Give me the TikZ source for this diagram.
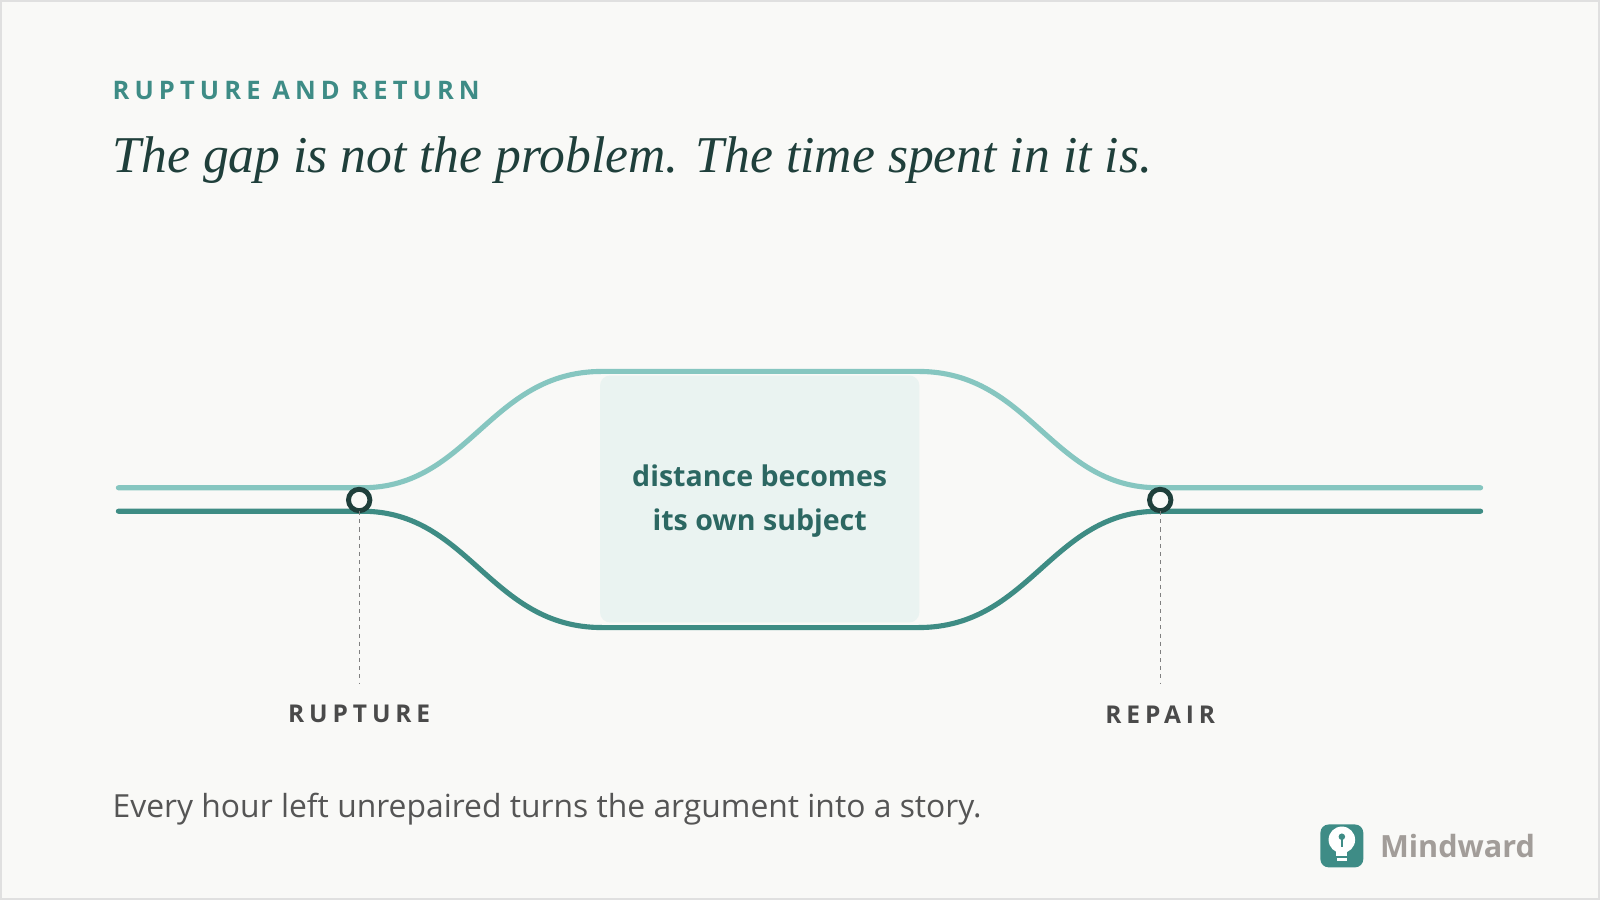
\documentclass[tikz,border=0pt]{standalone}
\usepackage{fontspec}
\setmainfont{Open Sans}
\newfontfamily\titlefont{Liberation Serif}
\newfontfamily\spacedfont[LetterSpace=20]{Open Sans}
\definecolor{bg}{HTML}{F9F9F7}
\definecolor{light}{HTML}{86C6C0}
\definecolor{dark}{HTML}{3E8C84}
\definecolor{ink}{HTML}{1F3F3B}
\definecolor{teal}{HTML}{3E8C86}
\definecolor{boxc}{HTML}{EAF3F1}
\definecolor{boxt}{HTML}{2C6762}
\definecolor{grayt}{HTML}{4A4A4A}
\definecolor{body}{HTML}{555555}
\definecolor{logot}{HTML}{A29D99}
\tikzset{
 lightline/.style={light,line width=2.5pt,line cap=round},
 darkline/.style={dark,line width=2.5pt,line cap=round},
 marker/.style={circle,draw=ink,line width=2.4pt,fill=bg,minimum size=10.5pt,inner sep=0pt},
 tick/.style={gray,line width=0.5pt,dash pattern=on 2pt off 2pt},
 lab/.style={font=\spacedfont\bfseries\fontsize{12}{14}\selectfont,text=grayt},
}
\begin{document}
\begin{tikzpicture}[x=0.5pt,y=-0.5pt]
\useasboundingbox (0,0) rectangle (1568,882);
\fill[bg] (0,0) rectangle (1568,882);
\draw[black!12,line width=1pt] (1,1) rectangle (1567,881);
\node[anchor=west,inner sep=0pt,text=teal,font=\spacedfont\bfseries\fontsize{12.5}{14}\selectfont] (kick) at (110,89) {RUPTURE AND RETURN};
\node[anchor=west,inner sep=0pt,text=ink,font=\titlefont\itshape\fontsize{25.3}{30}\selectfont] (title) at (110,157) {The gap is not the problem. The time spent in it is.};
\node[fill=boxc,rounded corners=5pt,minimum width=156.5pt,minimum height=121pt,inner sep=0pt] (box) at (744.5,489) {};
\node[text=boxt,font=\bfseries\fontsize{14}{21.5}\selectfont,align=center] (boxlab) at (744.5,491) {distance becomes\\its own subject};
\coordinate (la) at (116,478); \coordinate (lb) at (1451,478);
\coordinate (da) at (116,501); \coordinate (db) at (1451,501);
\draw[lightline] (la) -- (355,478) .. controls (460,478) and (480,364) .. (590,364) -- (900,364) .. controls (1010,364) and (1030,478) .. (1135,478) -- (lb);
\draw[darkline] (da) -- (355,501) .. controls (460,501) and (480,615) .. (590,615) -- (900,615) .. controls (1010,615) and (1030,501) .. (1135,501) -- (db);
\coordinate (t1) at (352,670); \coordinate (t2) at (1137,670);
\node[marker] (m1) at (352,490) {};
\node[marker] (m2) at (1137,490) {};
\draw[tick] (m1.south) ++(0,-2) -- (t1);
\draw[tick] (m2.south) ++(0,-2) -- (t2);
\node[lab] (r1) at (352,700) {RUPTURE};
\node[lab] (r2) at (1137,700) {REPAIR};
\node[anchor=west,inner sep=0pt,text=body,font=\fontsize{15.6}{18}\selectfont] (foot) at (110,793) {Every hour left unrepaired turns the argument into a story.};
\node[fill=teal,rounded corners=4pt,minimum size=21pt,inner sep=0pt] (logo) at (1315,829) {};
\fill[white] (1315,823) circle (6.5pt);
\fill[white] (1309.5,827) rectangle (1320.5,839);
\fill[white] (1310,841) rectangle (1320,844);
\fill[teal] (1315,820) circle (1.6pt);
\draw[teal,line width=1.2pt] (1315,820) -- (1315,830);
\node[anchor=west,inner sep=0pt,text=logot,font=\bfseries\fontsize{15}{18}\selectfont] (brand) at (1352,829) {Mindward};
\end{tikzpicture}
\end{document}
